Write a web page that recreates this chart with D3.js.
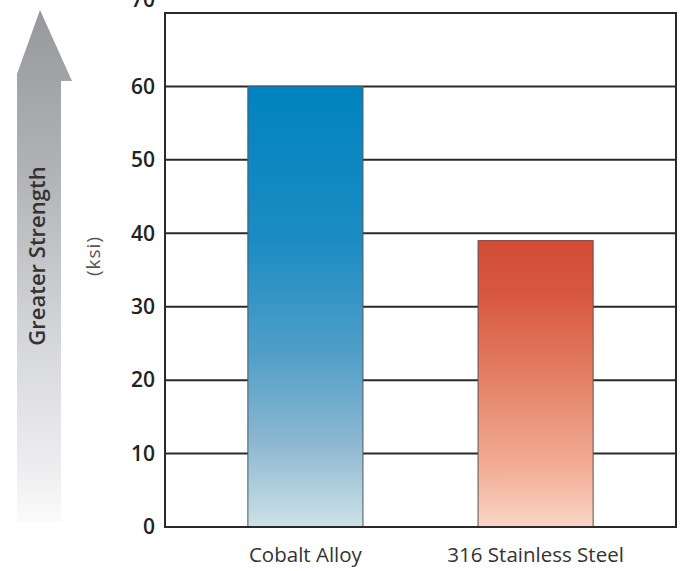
<!DOCTYPE html>
<html><head><meta charset="utf-8">
<script src="https://cdn.jsdelivr.net/npm/d3@7"></script>
<style>
html,body{margin:0;padding:0;background:#fff;}
svg{display:block;}
</style></head>
<body>
<svg id="chart" width="690" height="571"></svg>
<script>
const categories = ["Cobalt Alloy", "316 Stainless Steel"];
const values = [60, 39];
const tickValues = [0, 10, 20, 30, 40, 50, 60, 70];
const yMax = 70;

const svg = d3.select("#chart");
const margin = {left: 165, right: 14, top: 13, bottom: 44};
const W = 690, H = 571;
const x0 = margin.left, x1 = W - margin.right;
const y0 = margin.top, y1 = H - margin.bottom;

const x = d3.scaleBand().domain(categories).range([x0, x1]).paddingInner(0.5).paddingOuter(0.36);
const y = d3.scaleLinear().domain([0, yMax]).range([y1, y0]);

const defs = svg.append("defs");
const g1 = defs.append("linearGradient").attr("id", "gBlue").attr("x1", 0).attr("y1", 0).attr("x2", 0).attr("y2", 1);
[[0, "#0083bf"], [0.35, "#1b8cc3"], [0.6, "#4f9ec8"], [0.8, "#8ab6d0"], [1, "#cce2e6"]].forEach(s => g1.append("stop").attr("offset", s[0]).attr("stop-color", s[1]));
const g2 = defs.append("linearGradient").attr("id", "gRed").attr("x1", 0).attr("y1", 0).attr("x2", 0).attr("y2", 1);
[[0, "#d24b36"], [0.2, "#d8583f"], [0.55, "#e68a6f"], [0.8, "#f2ae97"], [1, "#fbd6c7"]].forEach(s => g2.append("stop").attr("offset", s[0]).attr("stop-color", s[1]));
const gA = defs.append("linearGradient").attr("id", "gArrow").attr("x1", 0).attr("y1", 0).attr("x2", 0).attr("y2", 1);
[[0, "#97989c"], [0.3, "#b0b1b5"], [0.65, "#d6d7da"], [0.9, "#eeeef0"], [1, "#fbfbfb"]].forEach(s => gA.append("stop").attr("offset", s[0]).attr("stop-color", s[1]));

// arrow
svg.append("path")
  .attr("d", "M40,10 L72,81 L61,81 L61,522 L17,522 L17,74 Z")
  .attr("fill", "url(#gArrow)");

svg.append("text")
  .attr("transform", "translate(45,256) rotate(-90)")
  .attr("text-anchor", "middle")
  .attr("font-family", "'Open Sans', sans-serif")
  .attr("font-weight", 600)
  .attr("font-size", 22)
  .attr("fill", "#333")
  .text("Greater Strength");

svg.append("text")
  .attr("transform", "translate(100,256) rotate(-90)")
  .attr("text-anchor", "middle")
  .attr("font-family", "'Open Sans', sans-serif")
  .attr("font-size", 19)
  .attr("letter-spacing", 1)
  .attr("fill", "#555")
  .text("(ksi)");

// gridlines
svg.append("g").selectAll("line").data(tickValues.filter(v => v > 0 && v < yMax)).join("line")
  .attr("x1", x0).attr("x2", x1)
  .attr("y1", d => y(d)).attr("y2", d => y(d))
  .attr("stroke", "#2a2a2a").attr("stroke-width", 2);

// bars
svg.append("g").selectAll("rect").data(categories).join("rect")
  .attr("x", d => x(d))
  .attr("width", x.bandwidth())
  .attr("y", (d, i) => y(values[i]))
  .attr("height", (d, i) => y(0) - y(values[i]))
  .attr("fill", (d, i) => i === 0 ? "url(#gBlue)" : "url(#gRed)")
  .attr("stroke", "#555").attr("stroke-width", 1);

// frame
svg.append("rect").attr("x", x0).attr("y", y0).attr("width", x1 - x0).attr("height", y1 - y0)
  .attr("fill", "none").attr("stroke", "#2a2a2a").attr("stroke-width", 2);

// y axis labels
const yAxis = d3.axisLeft(y).tickValues(tickValues).tickSize(0).tickPadding(10);
const ya = svg.append("g").attr("transform", `translate(${x0},0)`).call(yAxis);
ya.select(".domain").remove();
ya.selectAll("text")
  .attr("font-family", "'Open Sans', sans-serif")
  .attr("font-weight", 600)
  .attr("font-size", 21)
  .attr("fill", "#222")
  .attr("dy", d => d === yMax ? "-0.3em" : "0.32em");

// x axis labels
const xAxis = d3.axisBottom(x).tickSize(0).tickPadding(20);
const xa = svg.append("g").attr("transform", `translate(0,${y1})`).call(xAxis);
xa.select(".domain").remove();
xa.selectAll("text")
  .attr("font-family", "'Open Sans', sans-serif")
  .attr("font-size", 20.5)
  .attr("fill", "#333");
</script>
</body></html>
